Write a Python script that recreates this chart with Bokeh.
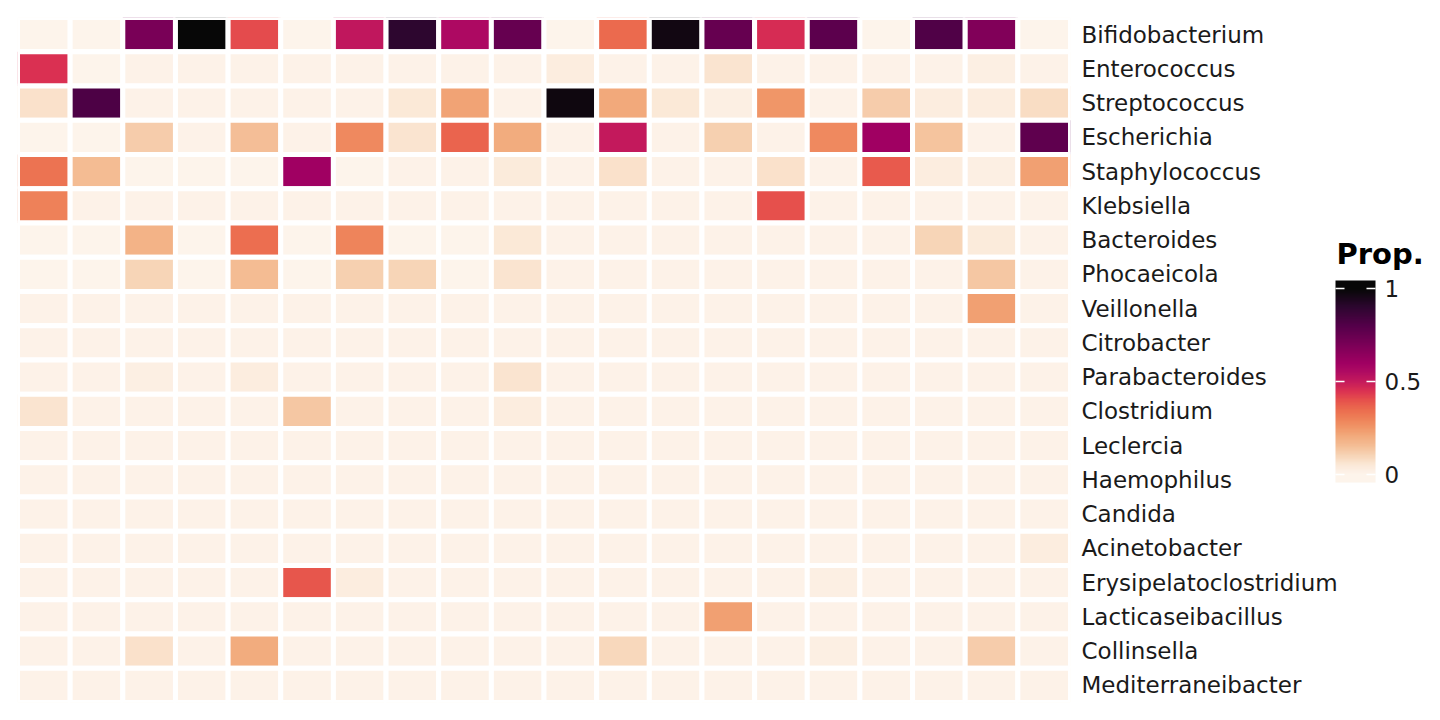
from bokeh.plotting import figure
from bokeh.models import (ColumnDataSource, LinearColorMapper, ColorBar,
                          FixedTicker, FactorRange)
from bokeh.embed import file_html
from bokeh.resources import INLINE

# ---------------- data ----------------
genera = ["Bifidobacterium", "Enterococcus", "Streptococcus", "Escherichia",
          "Staphylococcus", "Klebsiella", "Bacteroides", "Phocaeicola",
          "Veillonella", "Citrobacter", "Parabacteroides", "Clostridium",
          "Leclercia", "Haemophilus", "Candida", "Acinetobacter",
          "Erysipelatoclostridium", "Lacticaseibacillus", "Collinsella",
          "Mediterraneibacter"]
samples = ["S%02d" % i for i in range(1, 21)]

bifidobacterium = [0.00, 0.00, 0.70, 1.00, 0.41, 0.00, 0.51, 0.90, 0.56, 0.75,
                   0.00, 0.35, 0.97, 0.75, 0.46, 0.78, 0.00, 0.81, 0.68, 0.00]
enterococcus = [0.45, 0.00, 0.01, 0.01, 0.01, 0.01, 0.01, 0.01, 0.01, 0.01,
                0.03, 0.01, 0.01, 0.06, 0.01, 0.01, 0.01, 0.01, 0.02, 0.01]
streptococcus = [0.07, 0.82, 0.01, 0.01, 0.01, 0.01, 0.01, 0.05, 0.22, 0.01,
                 0.98, 0.21, 0.05, 0.02, 0.25, 0.01, 0.12, 0.03, 0.03, 0.08]
escherichia = [0.00, 0.00, 0.12, 0.01, 0.15, 0.01, 0.28, 0.06, 0.36, 0.20,
               0.01, 0.50, 0.01, 0.11, 0.01, 0.28, 0.60, 0.14, 0.01, 0.77]
staphylococcus = [0.33, 0.16, 0.00, 0.00, 0.00, 0.60, 0.00, 0.01, 0.01, 0.04,
                  0.01, 0.07, 0.01, 0.01, 0.07, 0.01, 0.38, 0.03, 0.02, 0.23]
klebsiella = [0.30, 0.01, 0.01, 0.01, 0.01, 0.01, 0.01, 0.01, 0.01, 0.01,
              0.01, 0.01, 0.01, 0.01, 0.40, 0.01, 0.01, 0.01, 0.01, 0.01]
bacteroides = [0.00, 0.00, 0.18, 0.00, 0.34, 0.00, 0.29, 0.00, 0.00, 0.05,
               0.01, 0.01, 0.01, 0.01, 0.01, 0.01, 0.01, 0.10, 0.04, 0.01]
phocaeicola = [0.00, 0.00, 0.10, 0.00, 0.16, 0.00, 0.11, 0.10, 0.00, 0.06,
               0.01, 0.01, 0.01, 0.01, 0.01, 0.01, 0.01, 0.01, 0.13, 0.01]
veillonella = [0.01, 0.01, 0.01, 0.01, 0.01, 0.01, 0.01, 0.01, 0.01, 0.01,
               0.01, 0.01, 0.01, 0.01, 0.01, 0.01, 0.01, 0.01, 0.23, 0.01]
citrobacter = [0.01, 0.01, 0.01, 0.01, 0.01, 0.01, 0.01, 0.01, 0.01, 0.01,
               0.01, 0.01, 0.01, 0.01, 0.01, 0.01, 0.01, 0.01, 0.01, 0.01]
parabacteroides = [0.01, 0.01, 0.02, 0.01, 0.03, 0.01, 0.01, 0.01, 0.01, 0.06,
                   0.01, 0.01, 0.01, 0.01, 0.01, 0.01, 0.01, 0.01, 0.01, 0.01]
clostridium = [0.06, 0.01, 0.01, 0.01, 0.01, 0.13, 0.01, 0.01, 0.01, 0.03,
               0.01, 0.01, 0.01, 0.01, 0.01, 0.01, 0.01, 0.01, 0.01, 0.01]
leclercia = [0.01, 0.01, 0.01, 0.01, 0.01, 0.01, 0.01, 0.01, 0.01, 0.01,
             0.01, 0.01, 0.01, 0.01, 0.01, 0.01, 0.01, 0.01, 0.01, 0.01]
haemophilus = [0.01, 0.01, 0.01, 0.01, 0.01, 0.01, 0.01, 0.01, 0.01, 0.01,
               0.01, 0.01, 0.01, 0.01, 0.01, 0.01, 0.01, 0.01, 0.01, 0.01]
candida = [0.01, 0.01, 0.01, 0.01, 0.01, 0.01, 0.01, 0.01, 0.01, 0.01,
           0.01, 0.01, 0.01, 0.01, 0.01, 0.01, 0.01, 0.01, 0.01, 0.01]
acinetobacter = [0.01, 0.01, 0.01, 0.01, 0.01, 0.01, 0.01, 0.01, 0.01, 0.01,
                 0.01, 0.01, 0.01, 0.01, 0.01, 0.01, 0.01, 0.01, 0.01, 0.03]
erysipelatoclostridium = [0.01, 0.01, 0.01, 0.01, 0.01, 0.39, 0.03, 0.01, 0.01, 0.01,
                          0.01, 0.01, 0.01, 0.01, 0.01, 0.02, 0.01, 0.01, 0.01, 0.01]
lacticaseibacillus = [0.01, 0.01, 0.01, 0.01, 0.01, 0.01, 0.01, 0.01, 0.01, 0.01,
                      0.01, 0.01, 0.01, 0.23, 0.01, 0.01, 0.01, 0.01, 0.01, 0.01]
collinsella = [0.01, 0.01, 0.07, 0.01, 0.20, 0.01, 0.01, 0.01, 0.01, 0.01,
               0.01, 0.09, 0.01, 0.01, 0.01, 0.02, 0.01, 0.01, 0.12, 0.01]
mediterraneibacter = [0.01, 0.01, 0.01, 0.01, 0.01, 0.01, 0.01, 0.01, 0.01, 0.01,
                      0.01, 0.01, 0.01, 0.01, 0.01, 0.01, 0.01, 0.01, 0.01, 0.01]

rows = [bifidobacterium, enterococcus, streptococcus, escherichia, staphylococcus,
        klebsiella, bacteroides, phocaeicola, veillonella, citrobacter,
        parabacteroides, clostridium, leclercia, haemophilus, candida,
        acinetobacter, erysipelatoclostridium, lacticaseibacillus, collinsella,
        mediterraneibacter]

legend_title = "Prop."
colorbar_ticks = [0, 0.5, 1]
colorbar_labels = ["0", "0.5", "1"]

# ---------------- palette (rocket, reversed) ----------------
anchors = [(0.00, "#FDF4EB"), (0.05, "#FBE8D6"), (0.10, "#F7D4B6"),
           (0.15, "#F4BE96"), (0.20, "#F2AC7E"), (0.25, "#F09668"),
           (0.30, "#EE8058"), (0.35, "#EB6A4E"), (0.40, "#E6504C"),
           (0.45, "#DA3052"), (0.50, "#C41A5C"), (0.55, "#B00C62"),
           (0.60, "#A00062"), (0.70, "#7A0057"), (0.80, "#55004A"),
           (0.90, "#2E0630"), (1.00, "#070707")]


def hex2rgb(h):
    return tuple(int(h[i:i + 2], 16) for i in (1, 3, 5))


def color_at(t):
    t = min(1.0, max(0.0, t))
    for (t0, c0), (t1, c1) in zip(anchors[:-1], anchors[1:]):
        if t <= t1:
            f = (t - t0) / (t1 - t0) if t1 > t0 else 0
            a, b = hex2rgb(c0), hex2rgb(c1)
            return "#%02x%02x%02x" % tuple(round(a[k] + (b[k] - a[k]) * f) for k in range(3))
    return anchors[-1][1]


N = 256
palette = [color_at(i / (N - 1)) for i in range(N)]
cb_low, cb_high = -0.045, 1.045
cb_palette = [color_at(cb_low + (cb_high - cb_low) * i / (N - 1)) for i in range(N)]

# ---------------- table ----------------
xs, ys, vals = [], [], []
for g, r in zip(genera, rows):
    for s, v in zip(samples, r):
        xs.append(s)
        ys.append(g)
        vals.append(v)
source = ColumnDataSource(dict(sample=xs, genus=ys, prop=vals))

mapper = LinearColorMapper(palette=palette, low=0, high=1)
cb_mapper = LinearColorMapper(palette=cb_palette, low=cb_low, high=cb_high)

p = figure(x_range=FactorRange(*samples), y_range=FactorRange(*reversed(genera)),
           frame_width=1053, frame_height=685,
           min_border_left=17, min_border_top=17, min_border_bottom=9,
           min_border_right=361, y_axis_location="right",
           output_backend="svg", toolbar_location=None,
           background_fill_color="white", border_fill_color="white")
p.outline_line_color = None
p.grid.visible = False
p.x_range.range_padding = 0
p.y_range.range_padding = 0

p.rect(x="sample", y="genus", width=1, height=1, source=source,
       fill_color={"field": "prop", "transform": mapper},
       line_color="white", line_width=5)

p.xaxis.visible = False
ya = p.yaxis[0]
ya.axis_line_color = None
ya.major_tick_line_color = None
ya.minor_tick_line_color = None
ya.major_tick_out = 0
ya.major_tick_in = 0
ya.major_label_standoff = 11
ya.major_label_text_font = "DejaVu Sans"
ya.major_label_text_font_size = "23px"
ya.major_label_text_color = "#1a1a1a"

# colour bar (ticks as white dashes on both edges of the bar)
cb = ColorBar(color_mapper=cb_mapper, ticker=FixedTicker(ticks=colorbar_ticks),
              major_label_overrides={t: l for t, l in zip(colorbar_ticks, colorbar_labels)},
              width=40, height=202, padding=0, margin=0,
              location=(1318, 220),
              major_label_text_font="DejaVu Sans",
              major_label_text_font_size="23px",
              major_label_text_color="#1a1a1a",
              label_standoff=9,
              major_tick_line_color="white", major_tick_line_width=1.5,
              major_tick_line_dash="9 22",
              major_tick_in=40, major_tick_out=0,
              minor_tick_line_color=None,
              bar_line_color=None, border_line_color=None,
              background_fill_color=None)
p.add_layout(cb)

# legend title: a horizontal colour bar whose bar is invisible, carrying only its title
cb_title = ColorBar(color_mapper=cb_mapper, orientation="horizontal",
                    ticker=FixedTicker(ticks=[]), width=100, height=1,
                    padding=0, margin=0, scale_alpha=0,
                    location=(1319, 431),
                    title=legend_title, title_text_font="DejaVu Sans",
                    title_text_font_size="29px", title_text_font_style="bold",
                    title_text_color="black", title_standoff=0,
                    major_label_text_font_size="0px",
                    major_tick_line_color=None, minor_tick_line_color=None,
                    bar_line_color=None, border_line_color=None,
                    background_fill_color=None)
p.add_layout(cb_title)

open("out.html", "w").write(file_html(p, INLINE))
